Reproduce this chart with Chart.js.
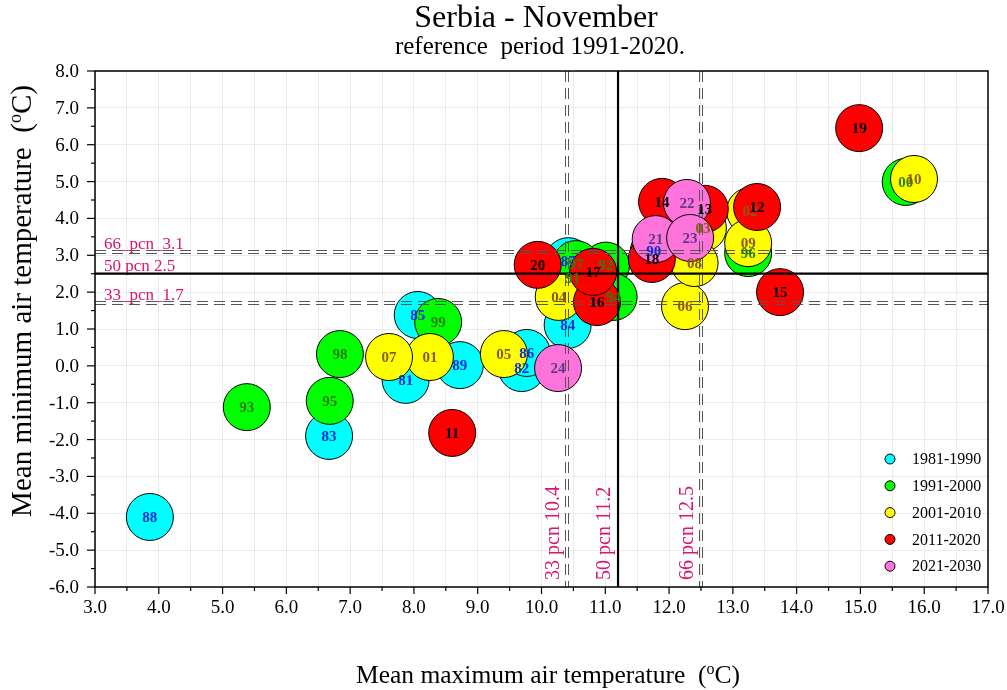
<!DOCTYPE html>
<html><head><meta charset="utf-8">
<script src="https://cdn.jsdelivr.net/npm/chart.js@4.4.0/dist/chart.umd.min.js"></script>
<style>html,body{margin:0;padding:0;background:#fff;overflow:hidden}</style>
</head><body>
<canvas id="c" width="1007" height="690"></canvas>
<script>
// ---------- data ----------
const decades = ['1981-1990','1991-2000','2001-2010','2011-2020','2021-2030'];
const fillColors = ['#00FFFF','#00FF00','#FFFF00','#FF0000','#FF74DA'];
const textColors = ['#0B2ED6','#2E7D0E','#8B5A12','#000000','#5B3A8E'];

const yrs1 = ['81','82','83','84','85','86','87','88','89','90'];
const tmax1 = [7.87, 9.69, 6.67, 10.41, 8.06, 9.77, 10.42, 3.86, 8.72, 11.76];
const tmin1 = [-0.38, -0.06, -1.90, 1.11, 1.38, 0.35, 2.84, -4.10, 0.02, 3.10];

const yrs2 = ['91','92','93','94','95','96','97','98','99','00'];
const tmax2 = [10.49, 11.01, 5.38, 11.13, 6.68, 13.24, 10.54, 6.84, 8.38, 15.71];
const tmin2 = [2.38, 2.72, -1.12, 1.87, -0.95, 3.06, 2.76, 0.32, 1.19, 4.99];

const yrs3 = ['01','02','03','04','05','06','07','08','09','10'];
const tmax3 = [8.25, 13.27, 12.53, 10.27, 9.41, 12.25, 7.61, 12.40, 13.24, 15.84];
const tmin3 = [0.24, 4.20, 3.74, 1.87, 0.32, 1.62, 0.24, 2.79, 3.33, 5.07];

const yrs4 = ['11','12','13','14','15','16','17','18','19','20'];
const tmax4 = [8.60, 13.38, 12.56, 11.89, 13.74, 10.87, 10.81, 11.73, 14.98, 9.94];
const tmin4 = [-1.82, 4.31, 4.26, 4.45, 2.00, 1.73, 2.55, 2.90, 6.45, 2.74];

const yrs5 = ['21','22','23','24'];
const tmax5 = [11.79, 12.28, 12.33, 10.26];
const tmin5 = [3.44, 4.42, 3.47, -0.06];

const xTickLabels = ['3.0','4.0','5.0','6.0','7.0','8.0','9.0','10.0','11.0','12.0','13.0','14.0','15.0','16.0','17.0'];
const yTickLabels = ['-6.0','-5.0','-4.0','-3.0','-2.0','-1.0','0.0','1.0','2.0','3.0','4.0','5.0','6.0','7.0','8.0'];

const pctX = [10.4, 11.2, 12.5];
const pctXLabels = ['33 pcn 10.4','50 pcn 11.2','66 pcn 12.5'];
const pctY = [1.7, 2.5, 3.1];
const pctYLabels = ['33_pcn_1.7','50 pcn 2.5','66_pcn_3.1'];

const titleText = 'Serbia - November';
const subtitleText = 'reference  period 1991-2020.';
// ---------------------------

const groups = [[yrs1,tmax1,tmin1],[yrs2,tmax2,tmin2],[yrs3,tmax3,tmin3],[yrs4,tmax4,tmin4],[yrs5,tmax5,tmin5]];
const SERIF = '"Liberation Serif","Times New Roman",serif';
const PCT_COLOR = '#D8156F';

const datasets = groups.map((g,i)=>({
  label: decades[i],
  data: g[1].map((x,j)=>({x:x, y:g[2][j]})),
  years: g[0],
  backgroundColor: fillColors[i],
  borderColor: '#000',
  borderWidth: 1,
  pointRadius: 23.5,
  pointHoverRadius: 23.5,
  order: 5 - i
}));

function drawMixed(ctx, segs, size, font) {
  ctx.textAlign = 'left';
  let w = 0;
  segs.forEach(s=>{ ctx.font = (s.sup ? Math.round(size*0.62) : size) + 'px ' + font; w += ctx.measureText(s.t).width; });
  let x = -w/2;
  segs.forEach(s=>{
    const sz = s.sup ? Math.round(size*0.62) : size;
    ctx.font = sz + 'px ' + font;
    ctx.fillText(s.t, x, s.sup ? -size*0.36 : 0);
    x += ctx.measureText(s.t).width;
  });
}

const deco = {
  id: 'deco',
  afterDatasetsDraw(chart) {
    const ctx = chart.ctx, xs = chart.scales.x, ys = chart.scales.y, a = chart.chartArea;
    ctx.save();
    // percentile labels
    ctx.fillStyle = PCT_COLOR;
    ctx.textAlign = 'left';
    ctx.textBaseline = 'alphabetic';
    ctx.font = '17px ' + SERIF;
    pctY.forEach((v,i)=>{ ctx.fillText(pctYLabels[i], a.left + 9, ys.getPixelForValue(v) - 3); });
    ctx.font = '20px ' + SERIF;
    pctX.forEach((v,i)=>{
      ctx.save();
      ctx.translate(xs.getPixelForValue(v) - 8, a.bottom - 7);
      ctx.rotate(-Math.PI/2);
      ctx.fillText(pctXLabels[i], 0, 0);
      ctx.restore();
    });
    // percentile lines
    const dashH = (y)=>{
      const p = Math.round(y);
      ctx.setLineDash([11,6]); ctx.strokeStyle = '#555'; ctx.lineWidth = 1;
      [p - 1.5, p + 1.5].forEach(q=>{ ctx.beginPath(); ctx.moveTo(a.left, q); ctx.lineTo(a.right, q); ctx.stroke(); });
      ctx.setLineDash([]);
    };
    const dashV = (x)=>{
      const p = Math.round(x);
      ctx.setLineDash([11,6]); ctx.strokeStyle = '#555'; ctx.lineWidth = 1;
      [p - 1.5, p + 1.5].forEach(q=>{ ctx.beginPath(); ctx.moveTo(q, a.top); ctx.lineTo(q, a.bottom); ctx.stroke(); });
      ctx.setLineDash([]);
    };
    ctx.strokeStyle = '#000'; ctx.lineWidth = 2.2;
    pctY.forEach((v,i)=>{
      const y = ys.getPixelForValue(v);
      if (i === 1) { ctx.strokeStyle = '#000'; ctx.lineWidth = 2.2; ctx.beginPath(); ctx.moveTo(a.left, y); ctx.lineTo(a.right, y); ctx.stroke(); }
      else dashH(y);
    });
    pctX.forEach((v,i)=>{
      const x = xs.getPixelForValue(v);
      if (i === 1) { ctx.strokeStyle = '#000'; ctx.lineWidth = 2.2; ctx.beginPath(); ctx.moveTo(x, a.top); ctx.lineTo(x, a.bottom); ctx.stroke(); }
      else dashV(x);
    });
    // labels in circles
    ctx.font = 'bold 15px ' + SERIF;
    ctx.textAlign = 'center';
    ctx.textBaseline = 'middle';
    chart.data.datasets.forEach((ds,i)=>{
      const meta = chart.getDatasetMeta(i);
      ctx.fillStyle = textColors[i];
      meta.data.forEach((el,j)=>{ ctx.fillText(ds.years[j], el.x, el.y + 1); });
    });
    // legend
    ctx.textAlign = 'left';
    ctx.font = '16px ' + SERIF;
    decades.forEach((d,i)=>{
      const y = 459 + i*26.8;
      ctx.beginPath(); ctx.arc(890, y, 5, 0, Math.PI*2);
      ctx.fillStyle = fillColors[i]; ctx.fill();
      ctx.strokeStyle = '#000'; ctx.lineWidth = 1; ctx.stroke();
      ctx.fillStyle = '#000';
      ctx.fillText(d, 912, y + 1);
    });
    // frame
    ctx.strokeStyle = '#000'; ctx.lineWidth = 1.5;
    ctx.strokeRect(a.left, a.top, a.right - a.left, a.bottom - a.top);
    // tick marks
    ctx.lineWidth = 1.2;
    xs.ticks.forEach(t=>{
      const x = xs.getPixelForValue(t.value);
      const major = Math.abs(t.value - Math.round(t.value)) < 1e-9;
      ctx.beginPath(); ctx.moveTo(x, a.bottom); ctx.lineTo(x, a.bottom + (major ? 7 : 4)); ctx.stroke();
    });
    ys.ticks.forEach(t=>{
      const y = ys.getPixelForValue(t.value);
      const major = Math.abs(t.value - Math.round(t.value)) < 1e-9;
      ctx.beginPath(); ctx.moveTo(a.left, y); ctx.lineTo(a.left - (major ? 8 : 4), y); ctx.stroke();
    });
    // tick labels
    ctx.fillStyle = '#000';
    ctx.font = '19px ' + SERIF;
    ctx.textAlign = 'center'; ctx.textBaseline = 'middle';
    xTickLabels.forEach(l=>{ ctx.fillText(l, xs.getPixelForValue(parseFloat(l)), a.bottom + 21); });
    ctx.textAlign = 'right';
    yTickLabels.forEach(l=>{ ctx.fillText(l, a.left - 16, ys.getPixelForValue(parseFloat(l)) + 1); });
    // titles
    ctx.textAlign = 'center'; ctx.textBaseline = 'alphabetic';
    ctx.font = '32px ' + SERIF;
    ctx.fillText(titleText, 536, 27);
    ctx.font = '25px ' + SERIF;
    ctx.fillText(subtitleText, 540, 54);
    // x axis title
    ctx.save();
    ctx.translate(548, 683);
    drawMixed(ctx, [{t:'Mean maximum air temperature  ('},{t:'o',sup:true},{t:'C)'}], 25.5, SERIF);
    ctx.restore();
    // y axis title
    ctx.save();
    ctx.translate(31, 301);
    ctx.rotate(-Math.PI/2);
    drawMixed(ctx, [{t:'Mean minimum air temperature  ('},{t:'o',sup:true},{t:'C)'}], 29, SERIF);
    ctx.restore();
    ctx.restore();
  }
};

new Chart(document.getElementById('c'), {
  type: 'scatter',
  data: { datasets },
  plugins: [deco],
  options: {
    responsive: false,
    animation: false,
    devicePixelRatio: 1,
    events: [],
    layout: { autoPadding: false, padding: { top: 71, right: 19, left: 0, bottom: 0 } },
    plugins: { legend: { display: false }, tooltip: { enabled: false }, title: { display: false } },
    scales: {
      x: {
        type: 'linear', min: 3, max: 17,
        ticks: { stepSize: 0.5, display: false },
        grid: { color: '#ececec', lineWidth: 1, drawTicks: false },
        border: { display: false },
        afterFit(s) { s.height = 103; }
      },
      y: {
        type: 'linear', min: -6, max: 8,
        ticks: { stepSize: 0.5, display: false },
        grid: { color: c => (Math.abs(c.tick.value - Math.round(c.tick.value)) < 1e-9 ? '#ececec' : 'rgba(0,0,0,0)'), lineWidth: 1, drawTicks: false },
        border: { display: false },
        afterFit(s) { s.width = 95; }
      }
    }
  }
});
</script>
</body></html>
